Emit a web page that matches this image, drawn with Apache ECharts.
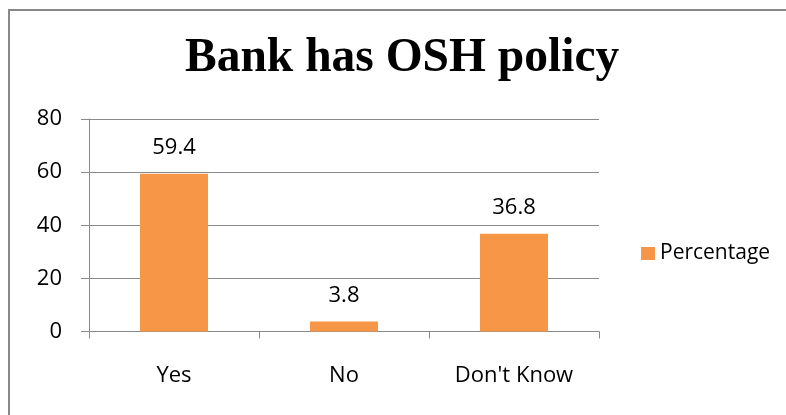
<!DOCTYPE html>
<html>
<head>
<meta charset="utf-8">
<title>Bank has OSH policy</title>
<script src="https://cdn.jsdelivr.net/npm/echarts@6/dist/echarts.min.js"></script>
<style>
  html, body { margin: 0; padding: 0; background: #fff; }
  #chart { width: 786px; height: 415px; }
</style>
</head>
<body>
<div id="chart"></div>
<script>
// Survey answers and their share of respondents (%)
const categories = ['Yes', 'No', "Don't Know"];
const percentage = [59.4, 3.8, 36.8];
const seriesName = 'Percentage';
const titleText = 'Bank has OSH policy';

const gray = '#898989';
const textFont = 'Open Sans';

const chart = echarts.init(document.getElementById('chart'), null, { renderer: 'canvas' });

chart.setOption({
  animation: false,
  backgroundColor: '#ffffff',
  title: {
    text: titleText,
    left: 185,
    top: 35,
    padding: 0,
    textStyle: {
      fontFamily: 'Liberation Serif',
      fontWeight: 'bold',
      fontSize: 47.5,
      color: '#000'
    }
  },
  legend: {
    data: [seriesName],
    left: 641,
    top: 243,
    padding: 0,
    itemWidth: 14,
    itemHeight: 13,
    icon: 'rect',
    textStyle: { fontFamily: textFont, fontSize: 21, color: '#000' }
  },
  grid: {
    left: 89,
    right: 187,
    top: 119,
    bottom: 83.5,
    containLabel: false
  },
  xAxis: {
    type: 'category',
    data: categories,
    boundaryGap: true,
    axisLine: { show: true, lineStyle: { color: gray, width: 1 } },
    axisTick: { show: true, length: 7, alignWithLabel: false, lineStyle: { color: gray } },
    axisLabel: { margin: 33, fontFamily: textFont, fontSize: 22, color: '#000' },
    splitLine: { show: false }
  },
  yAxis: {
    type: 'value',
    min: 0,
    max: 80,
    interval: 20,
    axisLine: { show: true, lineStyle: { color: gray, width: 1 } },
    axisTick: { show: true, length: 8, lineStyle: { color: gray } },
    axisLabel: { margin: 27, fontFamily: textFont, fontSize: 22, color: '#000' },
    splitLine: { show: true, lineStyle: { color: gray, width: 1 } }
  },
  graphic: [{
    type: 'polyline',
    silent: true,
    shape: { points: [[9, 415], [9, 10], [786, 10]] },
    style: { stroke: gray, lineWidth: 2, fill: null }
  }],
  series: [{
    name: seriesName,
    type: 'bar',
    data: percentage,
    barWidth: '40%',
    itemStyle: { color: '#F79646' },
    label: {
      show: true,
      position: 'top',
      distance: 15,
      fontFamily: textFont,
      fontSize: 22,
      color: '#000'
    }
  }]
});
</script>
</body>
</html>
